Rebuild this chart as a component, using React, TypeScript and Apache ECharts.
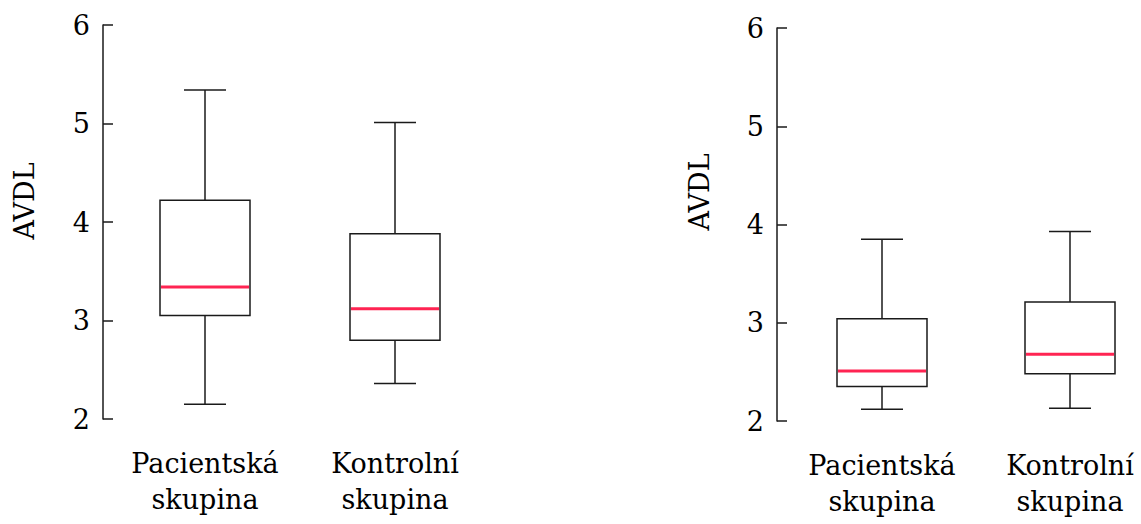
import React, { useEffect, useRef } from "react";
import * as echarts from "echarts";

const categories = ["Pacientská\nskupina", "Kontrolní\nskupina"];
// [min, Q1, median, Q3, max]
const leftStats = [
  [2.15, 3.05, 3.34, 4.22, 5.34],
  [2.36, 2.8, 3.12, 3.88, 5.01],
];
const rightStats = [
  [2.12, 2.35, 2.51, 3.04, 3.85],
  [2.13, 2.48, 2.68, 3.21, 3.93],
];
const yTicks = [2, 3, 4, 5, 6];
const yTitle = "AVDL";

const FONT = "DejaVu Serif";
const FS = 27;
const INK = "#1a1a1a";
const RED = "#ff2452";
const BOX_W = 90;
const CAP_W = 42;
const LW = 1.5;

function renderBox(params: any, api: any) {
  const x = api.value(0);
  const lo = api.coord([x, api.value(1)]);
  const q1 = api.coord([x, api.value(2)]);
  const med = api.coord([x, api.value(3)]);
  const q3 = api.coord([x, api.value(4)]);
  const hi = api.coord([x, api.value(5)]);
  const cx = lo[0];
  const line = { stroke: INK, lineWidth: LW, fill: "none" };
  return {
    type: "group",
    children: [
      { type: "line", shape: { x1: cx, y1: hi[1], x2: cx, y2: q3[1] }, style: line },
      { type: "line", shape: { x1: cx, y1: q1[1], x2: cx, y2: lo[1] }, style: line },
      { type: "line", shape: { x1: cx - CAP_W / 2, y1: hi[1], x2: cx + CAP_W / 2, y2: hi[1] }, style: line },
      { type: "line", shape: { x1: cx - CAP_W / 2, y1: lo[1], x2: cx + CAP_W / 2, y2: lo[1] }, style: line },
      {
        type: "rect",
        shape: { x: cx - BOX_W / 2, y: q3[1], width: BOX_W, height: q1[1] - q3[1] },
        style: { stroke: INK, lineWidth: LW, fill: "#fff" },
      },
      {
        type: "line",
        shape: { x1: cx - BOX_W / 2 + 1, y1: med[1], x2: cx + BOX_W / 2 - 1, y2: med[1] },
        style: { stroke: RED, lineWidth: 3, fill: "none" },
      },
    ],
  };
}

export default function App() {
  const ref = useRef<HTMLDivElement>(null);
  useEffect(() => {
    if (!ref.current) return;
    const chart = echarts.init(ref.current, undefined, { renderer: "svg" });
    const yAxisBase = (gridIndex: number, offset: number) => ({
      type: "value",
      gridIndex,
      min: yTicks[0],
      max: yTicks[yTicks.length - 1],
      interval: 1,
      offset,
      axisLine: { show: true, lineStyle: { color: INK, width: LW } },
      axisTick: { show: true, inside: true, length: 10, lineStyle: { color: INK, width: LW } },
      axisLabel: { color: "#000", fontFamily: FONT, fontSize: FS, margin: 13 },
      splitLine: { show: false },
    });
    const xAxisBase = (gridIndex: number) => ({
      type: "category",
      gridIndex,
      data: categories,
      axisLine: { show: false },
      axisTick: { show: false },
      axisLabel: { color: "#000", fontFamily: FONT, fontSize: FS, lineHeight: 36, margin: 26, interval: 0 },
    });
    const toData = (stats: number[][]) => stats.map((s, i) => [i, ...s]);
    const title = (x: number, y: number) => ({
      type: "text",
      x,
      y,
      rotation: Math.PI / 2,
      style: { text: yTitle, fontFamily: FONT, fontSize: FS, fill: "#000", align: "center", verticalAlign: "middle" },
    });
    chart.setOption({
      animation: false,
      grid: [
        { left: 110, top: 25, width: 380, height: 394 },
        { left: 788, top: 28, width: 376, height: 393 },
      ],
      xAxis: [xAxisBase(0), xAxisBase(1)],
      yAxis: [yAxisBase(0, 7), yAxisBase(1, 11)],
      graphic: [title(24, 201), title(699, 192)],
      series: [
        {
          type: "custom",
          xAxisIndex: 0,
          yAxisIndex: 0,
          data: toData(leftStats),
          encode: { x: 0, y: [1, 2, 3, 4, 5] },
          renderItem: renderBox,
        },
        {
          type: "custom",
          xAxisIndex: 1,
          yAxisIndex: 1,
          data: toData(rightStats),
          encode: { x: 0, y: [1, 2, 3, 4, 5] },
          renderItem: renderBox,
        },
      ],
    });
    return () => chart.dispose();
  }, []);
  return (
    <div
      ref={ref}
      style={{ position: "fixed", left: 0, top: 0, width: 1220, height: 524, background: "#fff" }}
    />
  );
}
